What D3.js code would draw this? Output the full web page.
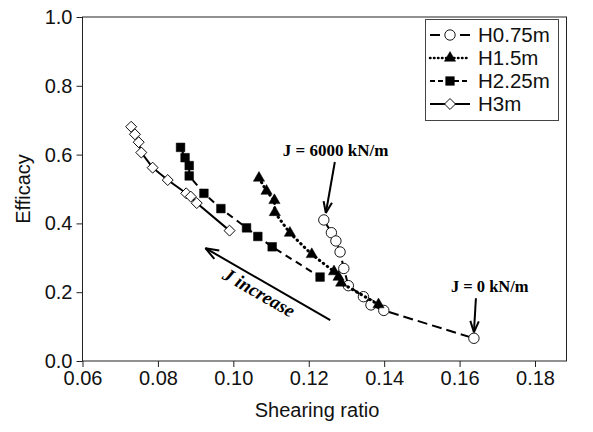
<!DOCTYPE html>
<html>
<head>
<meta charset="utf-8">
<script src="https://cdn.jsdelivr.net/npm/d3@7"></script>
<style>
  html, body { margin: 0; padding: 0; background: #fff; }
  svg { display: block; }
  .axis text { font-family: "Liberation Sans", Arial, sans-serif; font-size: 20px; fill: #111; }
  .axis path, .axis line { stroke: #222; stroke-width: 1; }
</style>
</head>
<body>
<svg id="chart" width="593" height="432"></svg>
<script>
// Shearing ratio (x) and efficacy (y) for each reinforcement height
const seriesNames = ["H0.75m", "H1.5m", "H2.25m", "H3m"];

const shearH075 = [0.1240, 0.1260, 0.1272, 0.1283, 0.1293, 0.1305, 0.1345, 0.1365, 0.1399, 0.1638];
const effH075   = [0.410, 0.373, 0.349, 0.317, 0.269, 0.219, 0.187, 0.163, 0.147, 0.066];

const shearH15 = [0.1068, 0.1088, 0.1109, 0.1110, 0.1150, 0.1208, 0.1267, 0.1279, 0.1286, 0.1385];
const effH15   = [0.532, 0.494, 0.467, 0.432, 0.372, 0.310, 0.260, 0.244, 0.227, 0.164];

const shearH225 = [0.0860, 0.0872, 0.0883, 0.0883, 0.0922, 0.0967, 0.1035, 0.1065, 0.1103, 0.1230];
const effH225   = [0.621, 0.591, 0.568, 0.538, 0.4875, 0.443, 0.387, 0.362, 0.332, 0.244];

const shearH3 = [0.0729, 0.0739, 0.0749, 0.0756, 0.0786, 0.0826, 0.0875, 0.0887, 0.0903, 0.0990];
const effH3   = [0.681, 0.659, 0.636, 0.606, 0.562, 0.526, 0.4875, 0.478, 0.459, 0.379];

const xTicks = [0.06, 0.08, 0.10, 0.12, 0.14, 0.16, 0.18];
const yTicks = [0.0, 0.2, 0.4, 0.6, 0.8, 1.0];

// "J increase" arrow, tail then head, in data units
const jArrowX = [0.1257, 0.0926];
const jArrowY = [0.119, 0.328];

const plot = { left: 82.5, right: 535, frameRight: 566.5, top: 17, bottom: 361 };

const svg = d3.select("#chart");
const x = d3.scaleLinear().domain([0.06, 0.18]).range([plot.left, plot.right]);
const y = d3.scaleLinear().domain([0, 1]).range([plot.bottom, plot.top]);

// outer frame
svg.append("rect")
  .attr("x", plot.left).attr("y", plot.top)
  .attr("width", plot.frameRight - plot.left).attr("height", plot.bottom - plot.top)
  .attr("fill", "none").attr("stroke", "#222").attr("stroke-width", 1);

svg.append("g").attr("class", "axis")
  .attr("transform", `translate(0,${plot.bottom})`)
  .call(d3.axisBottom(x).tickValues(xTicks).tickFormat(d3.format(".2f")).tickSize(6).tickSizeOuter(0).tickPadding(4))
  .select(".domain").remove();
svg.append("g").attr("class", "axis")
  .attr("transform", `translate(${plot.left},0)`)
  .call(d3.axisLeft(y).tickValues(yTicks).tickFormat(d3.format(".1f")).tickSize(6).tickSizeOuter(0).tickPadding(4))
  .select(".domain").remove();

const sansFont = '"Liberation Sans", Arial, sans-serif';
svg.append("text")
  .attr("x", 317).attr("y", 417)
  .attr("text-anchor", "middle")
  .style("font-family", sansFont).style("font-size", "20px").style("fill", "#111")
  .text("Shearing ratio");
svg.append("text")
  .attr("transform", `translate(30,${(plot.top + plot.bottom) / 2}) rotate(-90)`)
  .attr("text-anchor", "middle")
  .style("font-family", sansFont).style("font-size", "20px").style("fill", "#111")
  .text("Efficacy");

// series definitions
const styles = [
  { name: seriesNames[0], xs: shearH075, ys: effH075, dash: "10,5", legendDash: "10,5", cap: "butt", width: 2, marker: "circle", fill: "#fff" },
  { name: seriesNames[1], xs: shearH15, ys: effH15, dash: "0.5,4.5", legendDash: "0.5,3.5", cap: "round", width: 3, marker: "triangle", fill: "#000" },
  { name: seriesNames[2], xs: shearH225, ys: effH225, dash: "7,5", legendDash: "5,3", cap: "butt", width: 2, marker: "square", fill: "#000" },
  { name: seriesNames[3], xs: shearH3, ys: effH3, dash: null, legendDash: null, cap: "butt", width: 2, marker: "diamond", fill: "#fff" }
];

const symbolOf = {
  circle: d3.symbol().type(d3.symbolCircle).size(85),
  triangle: d3.symbol().type(d3.symbolTriangle).size(55),
  square: d3.symbol().type(d3.symbolSquare).size(75),
  diamond: d3.symbol().type(d3.symbolSquare).size(60)
};
function markerPath(g, kind, fill) {
  const p = g.append("path").attr("d", symbolOf[kind]())
    .attr("fill", fill)
    .attr("stroke", "#000")
    .attr("stroke-width", fill === "#fff" ? 0.9 : 0.5);
  if (kind === "diamond") p.attr("transform", "rotate(45)");
  return p;
}

const line = d3.line().x(d => x(d[0])).y(d => y(d[1]));
const drawOrder = [3, 2, 0, 1];
drawOrder.forEach(i => {
  const s = styles[i];
  const pts = s.xs.map((v, k) => [v, s.ys[k]]);
  const g = svg.append("g");
  g.append("path").datum(pts).attr("d", line)
    .attr("fill", "none").attr("stroke", "#000")
    .attr("stroke-width", s.width).attr("stroke-linecap", s.cap)
    .attr("stroke-dasharray", s.dash);
  pts.forEach(p => {
    const m = g.append("g").attr("transform", `translate(${x(p[0])},${y(p[1])})`);
    markerPath(m, s.marker, s.fill);
  });
});

// legend
const lg = svg.append("g");
lg.append("rect").attr("x", 425.5).attr("y", 19.5).attr("width", 133).attr("height", 101)
  .attr("fill", "#fff").attr("stroke", "#444").attr("stroke-width", 1);
styles.forEach((s, i) => {
  const cy = 35 + i * 23;
  lg.append("line").attr("x1", 430).attr("x2", 470).attr("y1", cy).attr("y2", cy)
    .attr("stroke", "#000").attr("stroke-width", s.width === 3 ? 2.5 : 2)
    .attr("stroke-linecap", s.cap)
    .attr("stroke-dasharray", s.legendDash);
  const m = lg.append("g").attr("transform", `translate(450,${cy})`);
  markerPath(m, s.marker, s.fill);
  lg.append("text").attr("x", 478).attr("y", cy + 7)
    .style("font-family", sansFont).style("font-size", "20.5px").style("fill", "#111")
    .text(s.name);
});

// annotations
const annFont = '"Liberation Serif", "Times New Roman", serif';
function arrow(x1, y1, x2, y2, head) {
  const a = Math.atan2(y2 - y1, x2 - x1);
  const g = svg.append("g").attr("stroke", "#000").attr("stroke-width", 2).attr("fill", "none");
  g.append("line").attr("x1", x1).attr("y1", y1).attr("x2", x2).attr("y2", y2);
  const spread = 0.36;
  [a + Math.PI - spread, a + Math.PI + spread].forEach(b => {
    g.append("line").attr("x1", x2).attr("y1", y2)
      .attr("x2", x2 + head * Math.cos(b)).attr("y2", y2 + head * Math.sin(b));
  });
}

// J = 6000 kN/m pointing at the stiffest H0.75m case
const top075 = [x(shearH075[0]), y(effH075[0])];
svg.append("text").attr("x", top075[0] - 41).attr("y", top075[1] - 64)
  .style("font-family", annFont).style("font-size", "17px").style("font-weight", "bold")
  .text("J = 6000 kN/m");
arrow(top075[0] + 11, top075[1] - 58, top075[0] + 2, top075[1] - 7, 12);

// J = 0 kN/m pointing at the unreinforced case
const last075 = [x(shearH075[9]), y(effH075[9])];
svg.append("text").attr("x", last075[0] - 23).attr("y", last075[1] - 46)
  .style("font-family", annFont).style("font-size", "16.5px").style("font-weight", "bold")
  .text("J = 0 kN/m");
arrow(last075[0] + 2, last075[1] - 40, last075[0], last075[1] - 6, 12);

// J increase
const ax1 = x(jArrowX[0]), ay1 = y(jArrowY[0]), ax2 = x(jArrowX[1]), ay2 = y(jArrowY[1]);
arrow(ax1, ay1, ax2, ay2, 14);
const ang = Math.atan2(ay1 - ay2, ax1 - ax2) * 180 / Math.PI;
svg.append("text")
  .attr("transform", `translate(${(ax1 + ax2) / 2 - 12},${(ay1 + ay2) / 2 + 14}) rotate(${ang})`)
  .attr("text-anchor", "middle")
  .style("font-family", annFont).style("font-size", "19px").style("font-weight", "bold").style("font-style", "italic")
  .text("J increase");
</script>
</body>
</html>
